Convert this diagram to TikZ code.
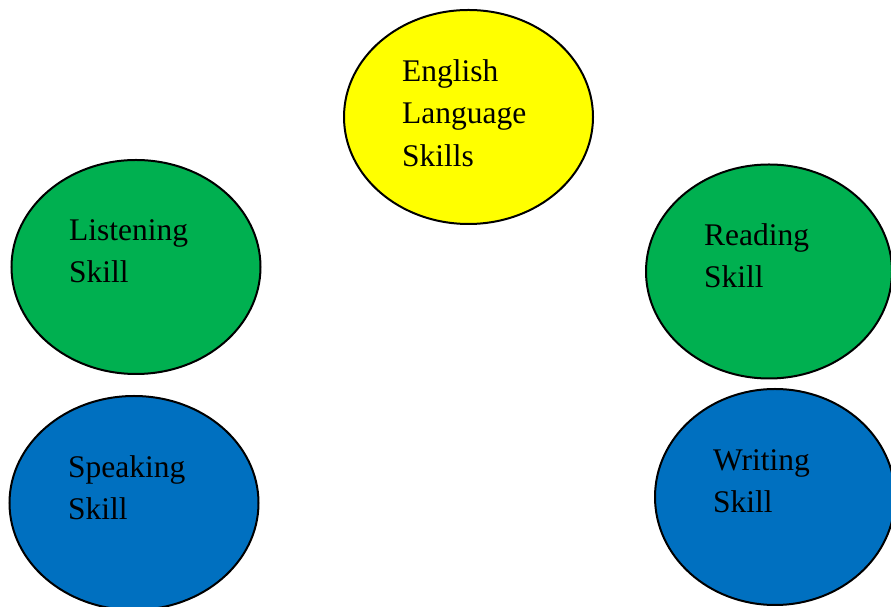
\documentclass[tikz,border=0pt]{standalone}
\usepackage{fontspec}
\setmainfont{Liberation Serif}
\usetikzlibrary{shapes.geometric}
\definecolor{eyellow}{HTML}{FFFF00}
\definecolor{egreen}{HTML}{00B050}
\definecolor{eblue}{HTML}{0070C0}
\begin{document}
\begin{tikzpicture}[x=1pt,y=1pt,
  bubble/.style={ellipse, draw=black, line width=2pt, inner sep=0pt, minimum width=249pt, minimum height=214pt},
  lbl/.style={anchor=base west, align=left, inner sep=0pt, font=\fontsize{31.5}{42.5}\selectfont}]
\useasboundingbox (0,0) rectangle (891,607);
\node[bubble, fill=eyellow] (eng) at (468.5,490) {};
\node[bubble, fill=egreen] (lis) at (136,340) {};
\node[bubble, fill=egreen, minimum width=246pt] (rea) at (769,335.5) {};
\node[bubble, fill=eblue] (spe) at (134,104) {};
\node[bubble, fill=eblue, minimum width=240pt, minimum height=216pt] (wri) at (775,110) {};
\node[lbl] (tEng) at (402,440.5) {English\\Language\\Skills};
\node[lbl] (tLis) at (69,324) {Listening\\Skill};
\node[lbl] (tRea) at (704,319) {Reading\\Skill};
\node[lbl] (tSpe) at (68,87) {Speaking\\Skill};
\node[lbl] (tWri) at (713,94) {Writing\\Skill};
\end{tikzpicture}
\end{document}
